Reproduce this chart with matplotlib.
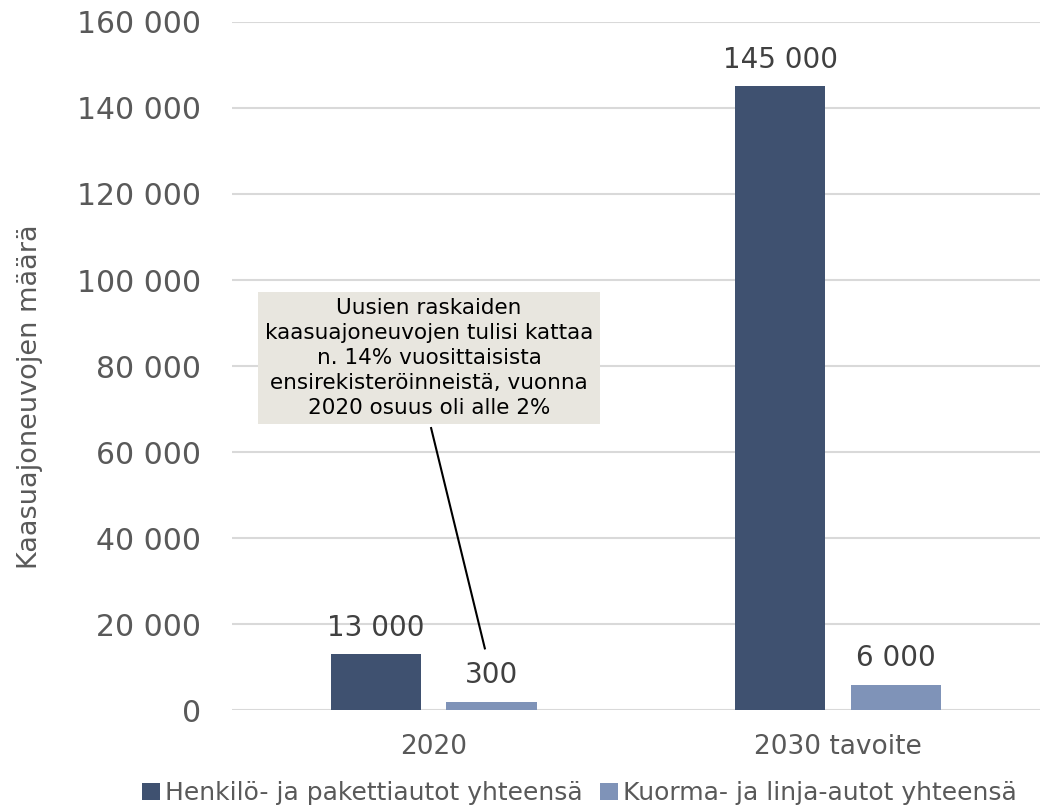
import matplotlib.pyplot as plt
import numpy as np
from matplotlib.ticker import FuncFormatter

categories = ["2020", "2030 tavoite"]
series_names = ["Henkilö- ja pakettiautot yhteensä", "Kuorma- ja linja-autot yhteensä"]
cars = [13000, 145000]
trucks = [2000, 6000]
car_labels = ["13 000", "145 000"]
truck_labels = ["300", "6 000"]
note = ("Uusien raskaiden\nkaasuajoneuvojen tulisi kattaa\nn. 14% vuosittaisista\n"
        "ensirekisteröinneistä, vuonna\n2020 osuus oli alle 2%")

dark = "#3F5170"
light = "#7F93B8"
grey = "#404040"
tick_grey = "#595959"

fig = plt.figure(figsize=(10.4, 8.1), dpi=100)
ax = fig.add_axes([0.223, 0.123, 0.777, 0.85])

x = np.arange(len(categories))
w = 0.224
off = 0.143
b1 = ax.bar(x - off, cars, w, color=dark, label=series_names[0], zorder=3)
b2 = ax.bar(x + off, trucks, w, color=light, label=series_names[1], zorder=3)

for bars, labels in ((b1, car_labels), (b2, truck_labels)):
    for rect, lab in zip(bars, labels):
        ax.text(rect.get_x() + rect.get_width() / 2, rect.get_height() + 3000, lab,
                ha="center", va="bottom", fontsize=20, color=grey)

ax.set_xlim(-0.5, 1.5)
ax.set_ylim(0, 160000)
ax.set_yticks(np.arange(0, 160001, 20000))
ax.yaxis.set_major_formatter(FuncFormatter(lambda v, p: f"{int(v):,}".replace(",", " ")))
ax.set_xticks(x)
ax.set_xticklabels(categories)
ax.tick_params(axis="both", length=0, colors=tick_grey)
ax.tick_params(axis="y", labelsize=21.5, pad=22)
ax.tick_params(axis="x", labelsize=19, pad=17)
ax.grid(axis="y", color="#D9D9D9", linewidth=1.5, zorder=0)
for s in ax.spines.values():
    s.set_visible(False)
ax.set_ylabel("Kaasuajoneuvojen määrä", fontsize=19.5, color=tick_grey)
ax.yaxis.set_label_coords(-0.234, 0.455)

ax.plot([0.126, -0.007], [14400, 65600], color="black", linewidth=1.5, zorder=4)
ax.text(-0.012, 81900, note, ha="center", va="center", fontsize=15.5, color="black",
        linespacing=1.3, zorder=5,
        bbox=dict(boxstyle="square,pad=0.3", facecolor="#E8E6DF", edgecolor="none"))

ax.legend(loc="center", bbox_to_anchor=(0.43, -0.1205), ncol=2, frameon=False,
          handlelength=0.7, handleheight=0.7, handletextpad=0.2, columnspacing=0.7,
          fontsize=18, labelcolor=tick_grey)

fig.savefig("out.png", dpi=100)
